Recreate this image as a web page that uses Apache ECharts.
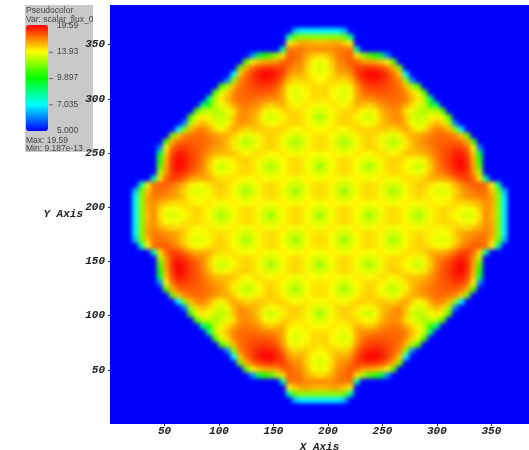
<!DOCTYPE html>
<html><head><meta charset="utf-8">
<script src="https://cdn.jsdelivr.net/npm/echarts@6/dist/echarts.min.js"></script>
<style>
html,body{margin:0;padding:0;background:#fff;overflow:hidden}
#clip{position:absolute;left:110px;top:5px;width:419px;height:419px;overflow:hidden;background:#0000ff}
#heat{position:absolute;left:-110px;top:-5px;width:529px;height:450px;filter:blur(2.2px)}
#top{position:absolute;left:0;top:0;width:529px;height:450px;filter:blur(0.35px)}
</style></head><body>
<div id="clip"><div id="heat"></div></div>
<div id="top"></div>
<script>
// scalar flux: one quadrant, offset from core centre, cell pitch 5.64 axis units
const row00=[12,13.1,13.7,14.4,14.6,14.4,13.7,13.1,12,13.1,13.7,14.4,14.6,14.4,13.7,13.1,12.2,13.2,13.8,14.4,14.7,14.4,13.9,13.5,13.2,13.5,14.5,16.3,15.3,12,7];
const row01=[13.1,13.4,13.9,14.4,14.6,14.4,13.9,13.4,13.1,13.4,13.9,14.4,14.6,14.4,13.9,13.4,13.2,13.5,14,14.5,14.7,14.6,14.3,13.9,13.6,13.9,14.8,16.2,15.5,12,7];
const row02=[13.7,13.9,14.2,13.9,13.7,13.9,14.2,13.9,13.7,13.9,14.2,13.9,13.7,13.9,14.2,13.9,13.8,14,14.3,14.1,14,14.3,14.7,14.6,14.6,15,15.5,16.2,15.7,12,7];
const row03=[14.4,14.4,13.9,13.4,13.1,13.4,13.9,14.4,14.6,14.4,13.9,13.4,13.1,13.4,13.9,14.4,14.6,14.4,14.1,13.8,13.7,14,14.8,15.5,15.9,16.2,16.5,16.6,15.7,12,7];
const row04=[14.6,14.4,13.7,13.1,12,13.1,13.7,14.4,14.6,14.4,13.7,13.1,12.2,13.1,13.7,14.4,14.7,14.5,14,13.5,13.3,13.6,14.6,15.5,16.2,16.6,16.9,16.7,15,11.5,6.5];
const row05=[14.4,14.4,13.9,13.4,13.1,13.4,13.9,14.4,14.6,14.4,13.9,13.4,13.2,13.5,14,14.5,14.8,14.7,14.4,13.9,13.7,14.2,15.2,16.1,16.8,17.3,17.3,16.8,14,8];
const row06=[13.7,13.9,14.2,13.9,13.7,13.9,14.2,13.9,13.7,13.9,14.2,13.9,13.8,14.1,14.5,14.5,14.4,14.8,15.4,15.6,15.5,16,16.9,17.8,18,17,14.5,8];
const row07=[13.1,13.4,13.9,14.4,14.6,14.4,13.9,13.4,13.2,13.5,14,14.5,14.7,14.6,14.2,13.8,13.5,14,15.2,16.2,16.7,17.4,18.3,18.8,18,16,12.5];
const row08=[12,13.1,13.7,14.4,14.6,14.4,13.7,13.1,12.2,13.2,13.8,14.5,14.7,14.5,13.9,13.4,13,13.6,14.8,16.3,17.3,18,18.8,19.5,18.5,15.8,11];
const row09=[13.1,13.4,13.9,14.4,14.6,14.4,13.9,13.5,13.3,13.6,14,14.6,14.9,14.7,14.3,13.9,13.6,14.1,15.3,16.5,17.4,18.1,19,19.5,18.2,15.5,10.5];
const row10=[13.7,13.9,14.2,13.9,13.7,14,14.3,14.1,13.9,14.2,14.5,14.2,14,14.4,15,15.1,15,15.4,16,16.8,17.5,18,18.7,18.9,17.8,15,9];
const row11=[14.4,14.4,13.9,13.4,13.1,13.4,14,14.5,14.7,14.5,14,13.5,13.3,13.7,14.4,15.2,15.6,15.9,16.4,17,17.4,17.7,18,18,16.8,14,6];
const row12=[14.6,14.4,13.7,13.1,12.2,13.1,13.7,14.4,14.8,14.4,13.8,13.2,12.6,13.3,14.2,15.1,15.8,16.2,16.7,17,17.2,17.3,17.2,16.8,15.5,11];
const row13=[14.4,14.4,13.9,13.4,13.2,13.5,14.1,14.6,14.9,14.6,14.1,13.6,13.3,14,14.8,15.5,15.6,16,16.5,16.9,17,16.8,16.3,15,11.5];
const row14=[13.8,14,14.3,14.1,13.9,14.2,14.8,14.8,14.6,14.8,15,14.8,14.6,15.2,15.8,14.7,13.8,14.4,15.6,16.5,16.2,15.3,12,7];
const row15=[13.2,13.5,14.1,14.6,14.7,14.7,14.5,14,13.7,14.2,15,15.5,15.8,16.1,15.2,13.8,13.2,13.6,14.6,15.3,14.7,12.5,6];
const row16=[12.2,13.2,13.8,14.5,14.8,14.6,14,13.4,13,13.7,14.8,15.7,16.2,16.3,15,13.2,12.8,13,13.8,14.2,13.6,11];
const row17=[13.2,13.5,14,14.4,14.5,14.7,14.7,14,13.6,14.1,15.3,15.9,16.2,16,14.4,13.6,13,12.6,12.8,12.8,11];
const row18=[13.8,14,14.3,14.1,14,14.4,15.4,15.2,14.8,15.3,16,16.4,16.7,16.5,15.6,14.6,13.8,12.8,10.5,8.5];
const row19=[14.4,14.5,14.1,13.8,13.5,13.9,15.6,16.2,16.3,16.5,16.8,17,17,16.9,16.5,15.3,14.2,12.8,8.5];
const row20=[14.7,14.7,14,13.7,13.3,13.7,15.5,16.7,17.3,17.4,17.5,17.4,17.2,17,16.2,14.7,13.6,11];
const row21=[14.4,14.6,14.3,14,13.6,14.2,16,17.4,18,18.1,18,17.7,17.3,16.8,15.3,12.5,11];
const row22=[13.9,14.3,14.7,14.8,14.6,15.2,16.9,18.3,18.8,19,18.7,18,17.2,16.3,12,6];
const row23=[13.5,13.9,14.6,15.5,15.5,16.1,17.8,18.8,19.5,19.5,18.9,18,16.8,15,7];
const row24=[13.2,13.6,14.6,15.9,16.2,16.8,18,18,18.5,18.2,17.8,16.8,15.5,11.5];
const row25=[13.5,13.9,15,16.2,16.6,17.3,17,16,15.8,15.5,15,14,11];
const row26=[14.5,14.8,15.5,16.5,16.9,17.3,14.5,12.5,11,10.5,9,6];
const row27=[16.3,16.2,16.2,16.6,16.7,16.8,8];
const row28=[15.3,15.5,15.7,15.7,15,14];
const row29=[12,12,12,12,11.5,8];
const row30=[7,7,7,7,6.5];
const fluxRows=[row00,row01,row02,row03,row04,row05,row06,row07,row08,row09,row10,row11,row12,row13,row14,row15,row16,row17,row18,row19,row20,row21,row22,row23,row24,row25,row26,row27,row28,row29,row30];

const xTicks=[50,100,150,200,250,300,350];
const yTicks=[50,100,150,200,250,300,350];
const scaleLabels=['19.59','13.93','9.897','7.035','5.000'];
const legendTitle=['Pseudocolor','Var: scalar_flux_0'];
const legendStats=['Max: 19.59','Min: 9.187e-13'];
const rainbow=['#0000ff','#00ffff','#00ff00','#ffff00','#ff0000'];
const fluxMin=5, fluxMax=19.59;

// heatmap layer
const half=34, cats=[];
for(let i=-half;i<=half;i++)cats.push(String(i));
const cells=[];
for(let r=-half;r<=half;r++){
  const row=fluxRows[Math.abs(r)]||[];
  for(let c=-half;c<=half;c++){
    const v=row[Math.abs(c)]||fluxMin;
    cells.push([c+half,r+half,Math.log10(Math.max(v,fluxMin))]);
  }
}
const lmin=Math.log10(fluxMin), lmax=Math.log10(fluxMax);
const heat=echarts.init(document.getElementById('heat'),null,{renderer:'canvas'});
heat.setOption({
  animation:false,
  grid:{left:107.8,top:3,width:424.35,height:424.35,outerBoundsMode:'none'},
  xAxis:{type:'category',data:cats,show:false},
  yAxis:{type:'category',data:cats,show:false},
  visualMap:{show:false,min:lmin,max:lmax,seriesIndex:0,inRange:{color:rainbow}},
  series:[{type:'heatmap',data:cells,progressive:0,emphasis:{disabled:true},itemStyle:{borderWidth:0}}]
});

// axes + legend layer
const axFont={color:'#222',fontFamily:'Liberation Mono',fontStyle:'italic',fontWeight:'bold',fontSize:11};
const top_=echarts.init(document.getElementById('top'),null,{renderer:'canvas'});
const gray='#444';
const txt=(x,y,t)=>({type:'text',left:x,top:y,style:{text:t,fill:gray,font:'8.5px "Liberation Sans"'}});
const graphics=[
  {type:'rect',z:-1,shape:{x:25,y:5,width:68,height:147},style:{fill:'#c9c9c9'}},
  txt(26,6,legendTitle[0]),txt(26,15,legendTitle[1]),
  txt(26,136,legendStats[0]),txt(26,144,legendStats[1])
];
scaleLabels.forEach((t,i)=>{
  const y=26+i*26.3;
  graphics.push(txt(57,y-5,t));
  if(i>0&&i<4)graphics.push({type:'line',shape:{x1:49,y1:y,x2:53,y2:y},style:{stroke:'#666',lineWidth:1}});
});
top_.setOption({
  animation:false,
  grid:{left:110,top:5,width:419,height:419,outerBoundsMode:'none'},
  xAxis:{type:'value',min:0,max:384.5,interval:50,splitLine:{show:false},
    axisLine:{show:false},axisTick:{length:2,lineStyle:{color:'#333'}},
    axisLabel:Object.assign({margin:2,showMinLabel:false,showMaxLabel:false,
      formatter:v=>xTicks.includes(v)?String(v):''},axFont),
    name:'X Axis',nameLocation:'middle',nameGap:8,nameTextStyle:axFont},
  yAxis:{type:'value',min:0,max:386.5,interval:50,splitLine:{show:false},
    axisLine:{show:false},axisTick:{length:2,lineStyle:{color:'#333'}},
    axisLabel:Object.assign({margin:5,showMinLabel:false,showMaxLabel:false,
      formatter:v=>yTicks.includes(v)?String(v):''},axFont),
    name:'Y Axis',nameLocation:'middle',nameRotate:0,nameGap:27,nameMoveOverlap:false,
    nameTextStyle:Object.assign({padding:[6,0,0,0]},axFont)},
  visualMap:{show:true,type:'continuous',seriesIndex:[],min:lmin,max:lmax,calculable:false,
    left:26,top:25,itemWidth:22,itemHeight:106,padding:0,text:['',''],showLabel:false,
    inRange:{color:rainbow},textStyle:{fontSize:0}},
  graphic:graphics,
  series:[]
});
</script></body></html>
